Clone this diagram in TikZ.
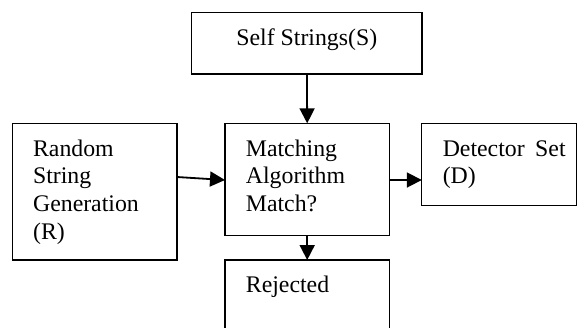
\documentclass[tikz,border=0pt]{standalone}
\usepackage{fontspec}
\setmainfont{Liberation Serif}
\usetikzlibrary{arrows.meta}
\tikzset{
  box/.style={draw=black, line width=1.3pt, inner sep=0pt, outer sep=0pt, anchor=north west},
  txt/.style={inner sep=0pt, outer sep=0pt, font=\fontsize{23.8}{27.7}\selectfont},
  arr/.style={line width=1.8pt, -{Triangle[length=15pt,width=15pt]}}
}
\begin{document}
\begin{tikzpicture}[x=1pt,y=-1pt]
\useasboundingbox (0,0) rectangle (577,327);
\clip (0,0) rectangle (577,327);
% boxes
\node[box, minimum width=230.2pt, minimum height=61.7pt] (S) at (191.8,12.3) {};
\node[box, minimum width=164.5pt, minimum height=136.7pt] (R) at (12.5,123.3) {};
\node[box, minimum width=164.4pt, minimum height=112pt] (M) at (225,123.3) {};
\node[box, minimum width=154.5pt, minimum height=82.4pt] (D) at (421.8,123.3) {};
\node[box, minimum width=164.4pt, minimum height=90pt] (J) at (225,260) {};
% texts
\node[txt, anchor=base] (St) at (306.8,45) {Self Strings(S)};
\node[txt, anchor=base west] (Rt) at (33.1,156) {\begin{tabular}[t]{@{}l@{}}Random\\String\\Generation\\(R)\end{tabular}};
\node[txt, anchor=base west] (Mt) at (245.9,156) {\begin{tabular}[t]{@{}l@{}}Matching\\Algorithm\\Match?\end{tabular}};
\node[txt, anchor=base west] (Dt) at (442.8,156) {\begin{tabular}[t]{@{}l@{}}Detector\hskip 10.5pt Set\\(D)\end{tabular}};
\node[txt, anchor=base west] (Jt) at (245.9,292.7) {Rejected};
% connectors
\draw[arr] (S.south) -- (M.north);
\draw[arr] ([yshift=-53.7pt]R.north east) -- ([yshift=-56.7pt]M.north west);
\draw[arr] ([yshift=-56.7pt]M.north east) -- ([yshift=-56.7pt]D.north west);
\draw[arr] (M.south) -- (J.north);
\end{tikzpicture}
\end{document}
